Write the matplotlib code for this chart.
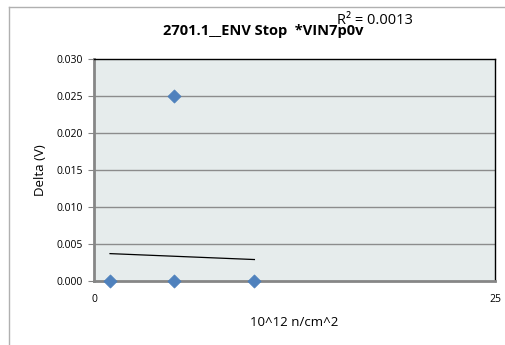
import matplotlib
matplotlib.use("Agg")
import matplotlib.pyplot as plt
from matplotlib.lines import Line2D

# data
x_vals = [1, 5, 5, 10]
y_vals = [0.0, 0.025, 0.0, 0.0]
trend_x = [1, 10]
trend_y = [0.0037, 0.0029]
y_ticks = [0.000, 0.005, 0.010, 0.015, 0.020, 0.025, 0.030]
x_ticks = [0, 25]

title = "2701.1__ENV Stop  *VIN7p0v"
r2_text = "R² = 0.0013"

plt.rcParams["font.family"] = ["Open Sans", "DejaVu Sans"]

fig = plt.figure(figsize=(5.05, 3.45), dpi=100)
ax = fig.add_axes([94 / 505, 1 - 281 / 345, (495 - 94) / 505, (281 - 59) / 345])

ax.set_facecolor("#E6ECEC")
ax.set_xlim(0, 25)
ax.set_ylim(0, 0.030)
ax.set_yticks(y_ticks)
ax.set_yticklabels([f"{v:.3f}" for v in y_ticks], fontsize=7.5)
ax.set_xticks(x_ticks)
ax.set_xticklabels([str(v) for v in x_ticks], fontsize=7.5)
ax.tick_params(axis="y", length=4, color="#868686", pad=4)
ax.tick_params(axis="x", length=0, pad=9)
for yv in y_ticks[1:-1]:
    ax.axhline(yv, color="#8C8C8C", lw=1.0, zorder=1)

for side in ["top", "right"]:
    ax.spines[side].set_color("#000000")
    ax.spines[side].set_linewidth(1.0)
ax.spines["left"].set_color("#868686")
ax.spines["left"].set_linewidth(2.0)
ax.spines["bottom"].set_color("#868686")
ax.spines["bottom"].set_linewidth(2.0)

ax.plot(trend_x, trend_y, color="black", lw=0.9, zorder=3)
ax.scatter(x_vals, y_vals, marker="D", s=45, color="#4F81BD",
           edgecolor="#4A7EBB", lw=0.5, zorder=4, clip_on=False)

ax.set_xlabel("10^12 n/cm^2", fontsize=9.5, labelpad=8)
ax.set_ylabel("Delta (V)", fontsize=9.5, labelpad=7)

fig.text(263 / 505, 1 - 31 / 345, title, fontsize=10.5, fontweight="bold",
         ha="center", va="center")
fig.text(337 / 505, 1 - 20 / 345, r2_text, fontsize=10.5, ha="left", va="center")

# outer chart frame (cropped on right and bottom)
fig.add_artist(Line2D([9 / 505, 1.0], [1 - 7 / 345, 1 - 7 / 345],
                      transform=fig.transFigure, color="#B0B0B0", lw=1))
fig.add_artist(Line2D([9 / 505, 9 / 505], [1 - 7 / 345, 0.0],
                      transform=fig.transFigure, color="#B0B0B0", lw=1))

fig.savefig("out.png", dpi=100)
